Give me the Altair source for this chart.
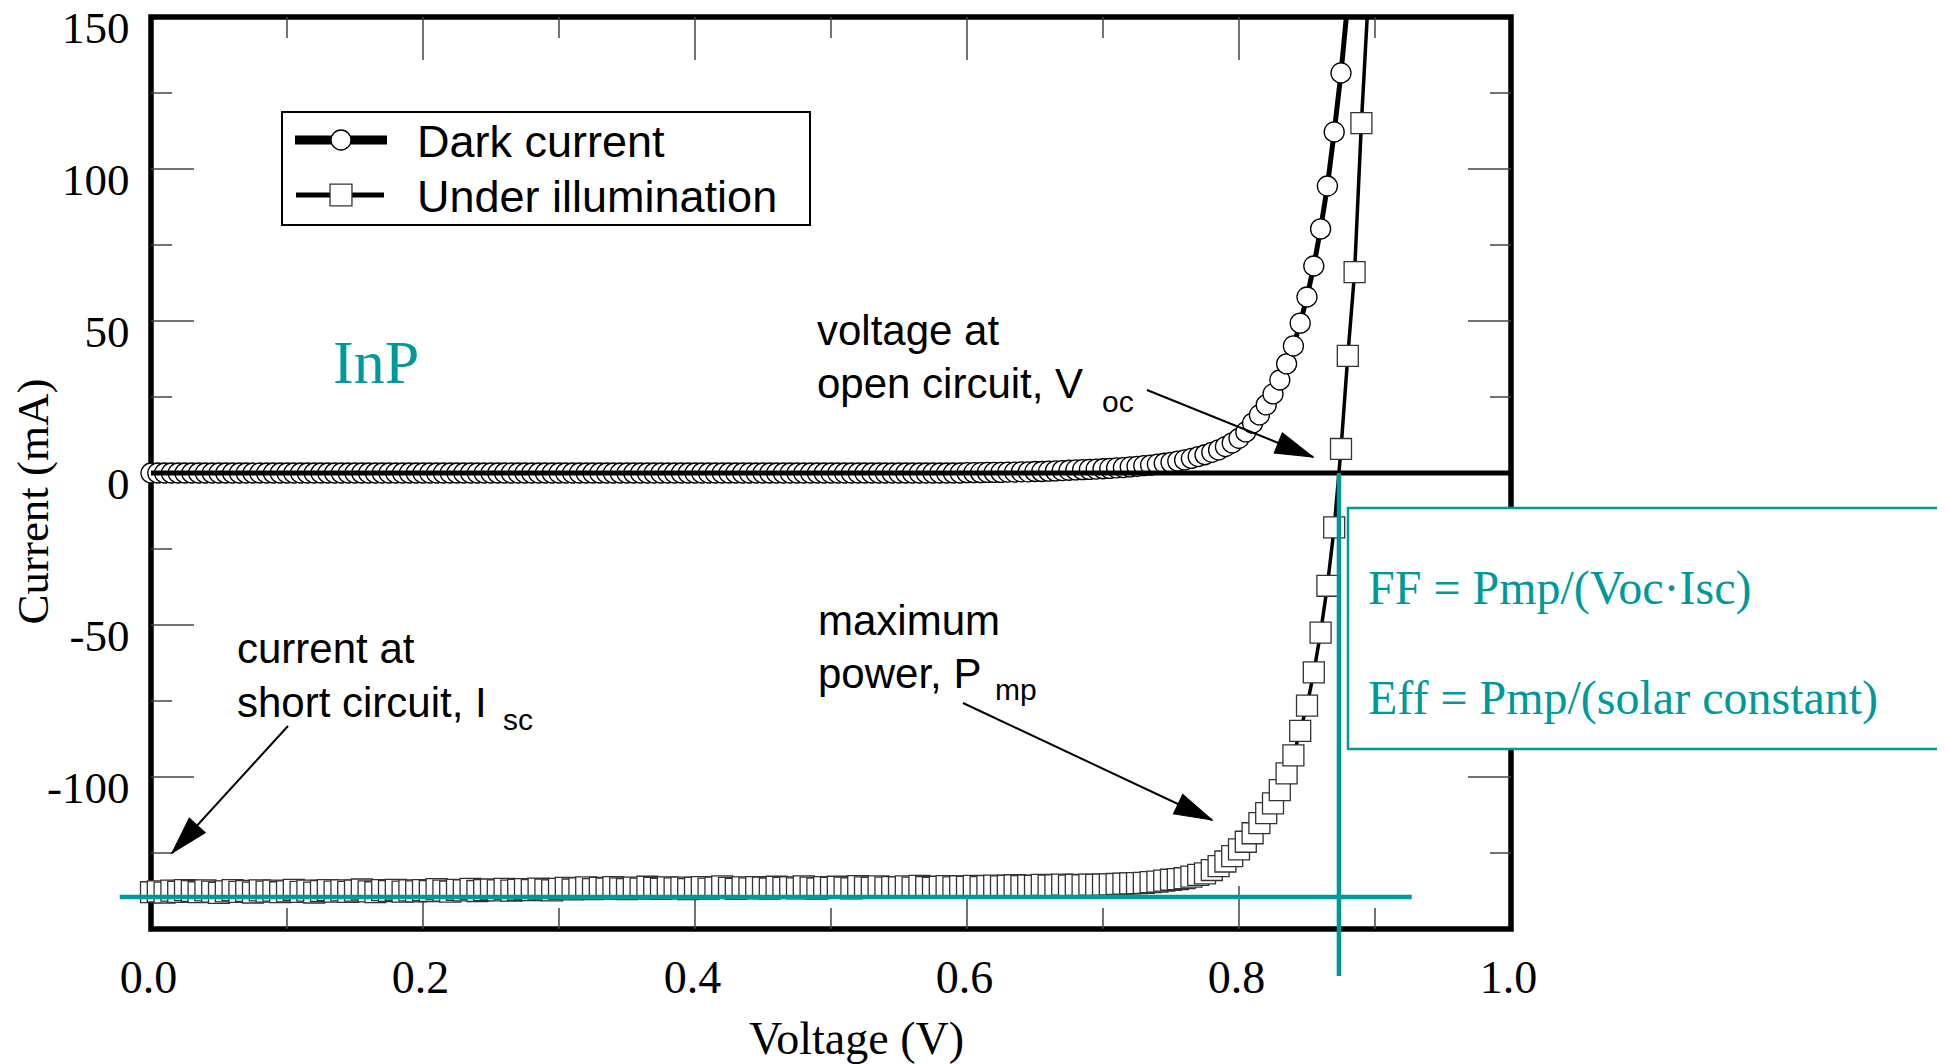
import altair as alt
import pandas as pd

# ---------------- data ----------------
voltage = [
    0.000, 0.005, 0.010, 0.015, 0.020, 0.025, 0.030, 0.035, 0.040, 0.045,
    0.050, 0.055, 0.060, 0.065, 0.070, 0.075, 0.080, 0.085, 0.090, 0.095,
    0.100, 0.105, 0.110, 0.115, 0.120, 0.125, 0.130, 0.135, 0.140, 0.145,
    0.150, 0.155, 0.160, 0.165, 0.170, 0.175, 0.180, 0.185, 0.190, 0.195,
    0.200, 0.205, 0.210, 0.215, 0.220, 0.225, 0.230, 0.235, 0.240, 0.245,
    0.250, 0.255, 0.260, 0.265, 0.270, 0.275, 0.280, 0.285, 0.290, 0.295,
    0.300, 0.305, 0.310, 0.315, 0.320, 0.325, 0.330, 0.335, 0.340, 0.345,
    0.350, 0.355, 0.360, 0.365, 0.370, 0.375, 0.380, 0.385, 0.390, 0.395,
    0.400, 0.405, 0.410, 0.415, 0.420, 0.425, 0.430, 0.435, 0.440, 0.445,
    0.450, 0.455, 0.460, 0.465, 0.470, 0.475, 0.480, 0.485, 0.490, 0.495,
    0.500, 0.505, 0.510, 0.515, 0.520, 0.525, 0.530, 0.535, 0.540, 0.545,
    0.550, 0.555, 0.560, 0.565, 0.570, 0.575, 0.580, 0.585, 0.590, 0.595,
    0.600, 0.605, 0.610, 0.615, 0.620, 0.625, 0.630, 0.635, 0.640, 0.645,
    0.650, 0.655, 0.660, 0.665, 0.670, 0.675, 0.680, 0.685, 0.690, 0.695,
    0.700, 0.705, 0.710, 0.715, 0.720, 0.725, 0.730, 0.735, 0.740, 0.745,
    0.750, 0.755, 0.760, 0.765, 0.770, 0.775, 0.780, 0.785, 0.790, 0.795,
    0.800, 0.805, 0.810, 0.815, 0.820, 0.825, 0.830, 0.835, 0.840, 0.845,
    0.850, 0.855, 0.860, 0.865, 0.870, 0.875, 0.880, 0.885, 0.890, 0.895,
]

dark_current = [
    0.0, 0.0, 0.0, 0.0, 0.0, 0.0, 0.0, 0.0, 0.0, 0.0,
    0.0, 0.0, 0.0, 0.0, 0.0, 0.0, 0.0, 0.0, 0.0, 0.0,
    0.0, 0.0, 0.0, 0.0, 0.0, 0.0, 0.0, 0.0, 0.0, 0.0,
    0.0, 0.0, 0.0, 0.0, 0.0, 0.0, 0.0, 0.0, 0.0, 0.0,
    0.0, 0.0, 0.0, 0.0, 0.0, 0.0, 0.0, 0.0, 0.0, 0.0,
    0.0, 0.0, 0.0, 0.0, 0.0, 0.0, 0.0, 0.0, 0.0, 0.0,
    0.0, 0.0, 0.0, 0.0, 0.0, 0.0, 0.0, 0.0, 0.0, 0.0,
    0.0, 0.0, 0.0, 0.0, 0.0, 0.0, 0.0, 0.0, 0.0, 0.0,
    0.0, 0.0, 0.0, 0.0, 0.0, 0.0, 0.0, 0.0, 0.0, 0.0,
    0.0, 0.0, 0.0, 0.0, 0.0, 0.0, 0.0, 0.0, 0.0, 0.0,
    0.0, 0.0, 0.0, 0.0, 0.0, 0.0, 0.0, 0.0, 0.0, 0.0,
    0.0, 0.0, 0.0, 0.0, 0.0, 0.0, 0.0, 0.0, 0.0, 0.0,
    0.1, 0.1, 0.1, 0.2, 0.2, 0.2, 0.3, 0.3, 0.4, 0.4,
    0.5, 0.5, 0.6, 0.7, 0.8, 0.9, 1.0, 1.1, 1.2, 1.3,
    1.4, 1.5, 1.7, 1.8, 2.0, 2.2, 2.4, 2.6, 2.9, 3.2,
    3.5, 3.9, 4.3, 4.8, 5.4, 6.0, 6.8, 7.6, 8.7, 9.9,
    11.4, 13.5, 16.4, 19.1, 22.4, 26.0, 30.6, 35.9, 41.8, 49.3,
    57.9, 68.1, 80.3, 94.4, 112.2, 131.6, 155.0,
]

illum_current = [
    -137.9, -137.6, -138.0, -137.4, -137.8, -137.2, -137.5, -137.9, -137.3, -137.7,
    -138.1, -137.6, -137.2, -137.8, -137.5, -138.0, -137.3, -137.7, -137.4, -137.9,
    -137.6, -137.1, -137.8, -137.4, -138.0, -137.5, -137.2, -137.7, -137.3, -137.8,
    -137.4, -137.0, -137.6, -137.9, -137.2, -137.5, -137.1, -137.7, -137.3, -137.6,
    -137.2, -137.5, -136.9, -137.4, -137.7, -137.1, -137.3, -136.8, -137.5, -137.2,
    -137.0, -137.3, -136.8, -137.4, -137.1, -136.9, -137.2, -136.7, -137.0, -137.3,
    -136.8, -136.5, -137.0, -136.6, -136.3, -136.9, -136.5, -136.7, -136.2, -136.6,
    -136.9, -136.4, -136.7, -136.1, -136.5, -136.8, -136.3, -136.6, -136.4, -136.9,
    -136.5, -136.2, -136.7, -136.4, -136.0, -136.5, -136.8, -136.3, -136.6, -136.2,
    -136.4, -136.7, -136.1, -136.5, -136.3, -136.6, -136.0, -136.4, -136.7, -136.2,
    -136.5, -136.1, -136.4, -136.6, -135.9, -136.3, -136.5, -136.0, -136.4, -136.2,
    -136.3, -136.0, -136.4, -135.8, -136.2, -136.5, -136.1, -135.9, -136.3, -136.0,
    -136.1, -135.8, -136.2, -135.9, -135.7, -136.0, -135.8, -135.6, -135.9, -135.7,
    -135.8, -135.5, -135.7, -135.6, -135.4, -135.7, -135.5, -135.6, -135.4, -135.5,
    -135.4, -135.3, -135.2, -135.1, -135.0, -134.9, -134.8, -134.6, -134.4, -134.1,
    -133.8, -133.6, -133.3, -132.8, -132.2, -131.7, -130.6, -129.3, -127.8, -126.0,
    -123.8, -121.3, -118.5, -115.2, -111.9, -108.7, -104.3, -98.8, -92.9, -84.8,
    -76.5, -65.6, -52.5, -37.1, -17.9, 7.9, 38.5, 66.1, 115.1, 156.0,
]

series_names = ["Dark current", "Under illumination"]

x_label_values = [0.0, 0.2, 0.4, 0.6, 0.8, 1.0]
y_label_values = [150, 100, 50, 0, -50, -100]
x_major_ticks = [0.2, 0.4, 0.6, 0.8]
x_minor_ticks = [0.1, 0.3, 0.5, 0.7, 0.9]
y_major_ticks = [100, 50, 0, -50, -100]
y_minor_ticks = [125, 75, 25, -25, -75, -125]

voc = 0.8735            # open-circuit voltage (teal vertical line)
isc = -139.5            # short-circuit current (teal horizontal line)
isc_line_span = [-0.023, 0.927]
voc_line_span = [0.0, -165.5]

# ---------------- styling ----------------
TEAL = "#009999"
W, H = 1360, 912
SERIF = "Liberation Serif"
SANS = "Liberation Sans"

xscale = alt.Scale(domain=[0, 1], nice=False, zero=False)
yscale = alt.Scale(domain=[-150, 150], nice=False, zero=False)

xaxis = alt.Axis(
    values=x_label_values, format=".1f",
    labelFont=SERIF, labelFontSize=46, labelColor="black",
    labelPadding=63, labelBaseline="alphabetic", labelOffset=-3,
    labelFlush=False, labelOverlap=False,
    ticks=False, tickSize=0, domain=False, grid=False,
    title="Voltage (V)", titleFont=SERIF, titleFontSize=46,
    titleFontWeight="normal", titleColor="black",
    titleX=705, titleY=124, titleBaseline="alphabetic", titleAlign="center",
)
yaxis = alt.Axis(
    values=y_label_values, labelExpr="toString(datum.value)",
    labelFont=SERIF, labelFontSize=45, labelColor="black",
    labelPadding=22, labelBaseline="alphabetic", labelOffset=25,
    labelAlign="right", labelFlush=False, labelOverlap=False,
    ticks=False, tickSize=0, domain=False, grid=False,
    title="Current (mA)", titleFont=SERIF, titleFontSize=45,
    titleFontWeight="normal", titleColor="black",
    titleX=-104, titleY=484, titleAngle=270,
    titleBaseline="alphabetic", titleAlign="center",
)


def X(field):
    return alt.X(field, type="quantitative", scale=xscale, axis=xaxis)


def Y(field):
    return alt.Y(field, type="quantitative", scale=yscale, axis=yaxis)


one = pd.DataFrame({"a": [0]})
dark_df = pd.DataFrame({"V": voltage[:len(dark_current)], "I": dark_current,
                        "series": series_names[0]})
illum_df = pd.DataFrame({"V": voltage[:len(illum_current)], "I": illum_current,
                         "series": series_names[1]})

layers = []

# tick marks (inward) on all four sides
TICK = dict(color="#444444", strokeWidth=1.5)
for vals, ln in ((x_major_ticks, 43), (x_minor_ticks, 21)):
    d = pd.DataFrame({"V": vals})
    layers.append(alt.Chart(d).mark_rule(**TICK).encode(
        x=X("V"), y=alt.value(H), y2=alt.value(H - ln)))
    layers.append(alt.Chart(d).mark_rule(**TICK).encode(
        x=X("V"), y=alt.value(0), y2=alt.value(ln)))
for vals, ln in ((y_major_ticks, 43), (y_minor_ticks, 21)):
    d = pd.DataFrame({"I": vals})
    layers.append(alt.Chart(d).mark_rule(**TICK).encode(
        y=Y("I"), x=alt.value(0), x2=alt.value(ln)))
    layers.append(alt.Chart(d).mark_rule(**TICK).encode(
        y=Y("I"), x=alt.value(W), x2=alt.value(W - ln)))

# curves
layers.append(alt.Chart(dark_df).mark_line(color="black", strokeWidth=5, clip=True)
              .encode(x=X("V"), y=Y("I")))
layers.append(alt.Chart(dark_df).transform_filter("datum.I <= 150")
              .mark_point(shape="circle", filled=True, fill="white", stroke="black",
                          strokeWidth=1.3, size=400, opacity=1)
              .encode(x=X("V"), y=Y("I")))
layers.append(alt.Chart(illum_df).mark_line(color="black", strokeWidth=3.5, clip=True)
              .encode(x=X("V"), y=Y("I")))
layers.append(alt.Chart(illum_df).transform_filter("datum.I <= 150")
              .mark_point(shape="square", filled=True, fill="white", stroke="#333333",
                          strokeWidth=1.3, size=440, opacity=1)
              .encode(x=X("V"), y=Y("I")))

# zero line
layers.append(alt.Chart(one).mark_rule(color="black", strokeWidth=5).encode(
    y=alt.Y(datum=0, type="quantitative", scale=yscale, axis=yaxis),
    x=alt.value(0), x2=alt.value(W)))

# teal Isc / Voc lines
layers.append(alt.Chart(pd.DataFrame({"x0": [isc_line_span[0]], "x1": [isc_line_span[1]],
                                      "y": [isc]}))
              .mark_rule(color=TEAL, strokeWidth=4.5)
              .encode(x=X("x0"), x2="x1", y=Y("y")))
layers.append(alt.Chart(pd.DataFrame({"x": [voc], "y0": [voc_line_span[0]],
                                      "y1": [voc_line_span[1]]}))
              .mark_rule(color=TEAL, strokeWidth=4.5)
              .encode(x=X("x"), y=Y("y0"), y2="y1"))

# arrows
ARROW = "M0,0L-0.29,1L0.29,1Z"
for (x0, y0, x1, y1, ang) in ((996, 373, 1162, 440, 112),
                              (812, 686, 1061, 803, 115.2),
                              (137, 709, 21, 836, 222.4)):
    layers.append(alt.Chart(one).mark_rule(color="black", strokeWidth=2).encode(
        x=alt.value(x0), y=alt.value(y0), x2=alt.value(x1), y2=alt.value(y1)))
    layers.append(alt.Chart(one).mark_point(shape=ARROW, filled=True, fill="black",
                                            stroke="black", strokeWidth=1, size=5625,
                                            angle=ang, opacity=1)
                  .encode(x=alt.value(x1), y=alt.value(y1)))


def label(text, x, y, size=42, font=SANS, color="black"):
    return alt.Chart(one).mark_text(align="left", baseline="alphabetic", font=font,
                                    fontSize=size, color=color, text=text).encode(
        x=alt.value(x), y=alt.value(y))


layers += [
    label("voltage at", 666, 328),
    label("open circuit, V", 666, 381),
    label("oc", 951, 395, size=30),
    label("maximum", 667, 618),
    label("power, P", 667, 671),
    label("mp", 844, 683, size=30),
    label("current at", 86, 646),
    label("short circuit, I", 86, 700),
    label("sc", 352, 713, size=30),
    label("InP", 182, 366, size=62, font=SERIF, color=TEAL),
]

# legend
layers += [
    alt.Chart(one).mark_rect(fill="white", stroke="black", strokeWidth=2).encode(
        x=alt.value(131), x2=alt.value(659), y=alt.value(95), y2=alt.value(208)),
    alt.Chart(one).mark_rule(color="black", strokeWidth=9).encode(
        x=alt.value(144), x2=alt.value(236), y=alt.value(123)),
    alt.Chart(one).mark_point(shape="circle", filled=True, fill="white", stroke="black",
                              strokeWidth=1.3, size=400, opacity=1).encode(
        x=alt.value(190), y=alt.value(123)),
    alt.Chart(one).mark_rule(color="black", strokeWidth=5).encode(
        x=alt.value(145), x2=alt.value(233), y=alt.value(178)),
    alt.Chart(one).mark_point(shape="square", filled=True, fill="white", stroke="#333333",
                              strokeWidth=1.3, size=480, opacity=1).encode(
        x=alt.value(190), y=alt.value(178)),
    label(series_names[0], 266, 140, size=45),
    label(series_names[1], 266, 195, size=45),
]

# teal formula box
layers += [
    alt.Chart(one).mark_rect(fill="white", stroke=TEAL, strokeWidth=2.5).encode(
        x=alt.value(1197), x2=alt.value(1900), y=alt.value(491), y2=alt.value(732)),
    label("FF = Pmp/(Voc\u00b7Isc)", 1217, 587, size=48, font=SERIF, color=TEAL),
    label("Eff = Pmp/(solar constant)", 1217, 697, size=48, font=SERIF, color=TEAL),
]

chart = alt.layer(*layers).properties(
    width=W, height=H,
    padding={"left": 143, "top": 9, "right": 426, "bottom": 135},
    autosize=alt.AutoSizeParams(type="none"),
    background="white",
).configure_view(stroke="black", strokeWidth=5.5)

chart.save("out.html", embed_options={"renderer": "svg", "actions": False})
